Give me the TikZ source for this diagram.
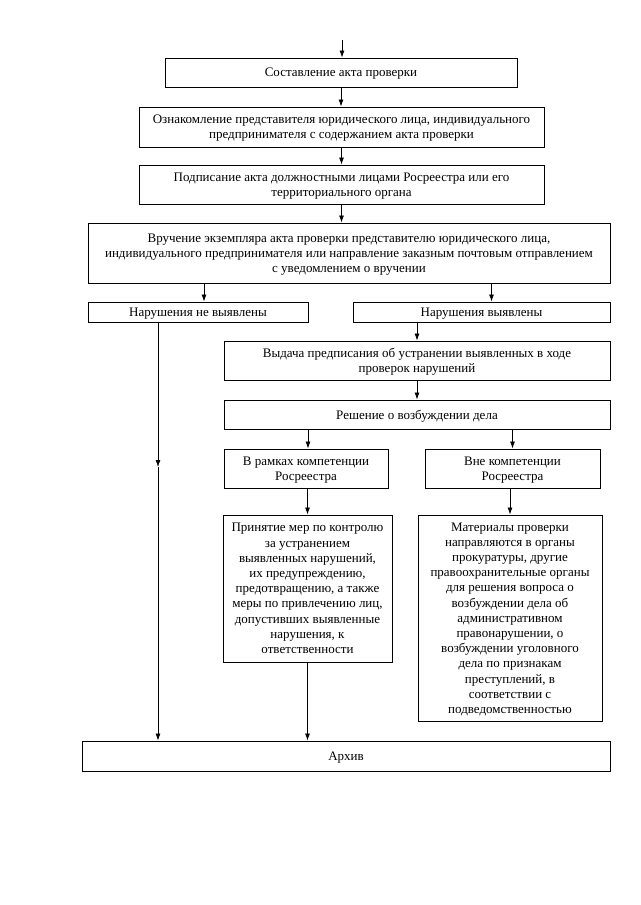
\documentclass[tikz,border=0pt]{standalone}
\usepackage{fontspec}
\setmainfont{Liberation Serif}
\usetikzlibrary{arrows.meta}
\newcommand\bxnode[6]{%
  \node[box, minimum width={(#4-#2)*1pt}, minimum height={(#5-#3)*1pt}] (#1) at ({(#2+#4)/2},{(#3+#5)/2}) {#6};}
\begin{document}
\begin{tikzpicture}[x=1pt,y=-1pt,
  box/.style={draw, line width=0.9pt, inner sep=0pt, align=center, text depth=0pt,
    font=\fontsize{13}{15.2}\selectfont},
  arr/.style={line width=0.8pt, -{Latex[length=7pt,width=5pt]}}]
\useasboundingbox (0,0) rectangle (640,905);
\fill[white] (0,0) rectangle (640,905);

\bxnode{b1}{165}{58}{517}{87}{Составление акта проверки}
\bxnode{b2}{139}{107}{544}{147}{Ознакомление представителя юридического лица, индивидуального\\предпринимателя с содержанием акта проверки}
\bxnode{b3}{139}{165}{544}{204}{Подписание акта должностными лицами Росреестра или его\\территориального органа}
\bxnode{b4}{88}{223}{610}{283}{Вручение экземпляра акта проверки представителю юридического лица,\\индивидуального предпринимателя или направление заказным почтовым отправлением\\с уведомлением о вручении}
\bxnode{b5}{88}{302}{308}{322}{Нарушения не выявлены}
\bxnode{b6}{353}{302}{610}{322}{Нарушения выявлены}
\bxnode{b7}{224}{341}{610}{380}{Выдача предписания об устранении выявленных в ходе\\проверок нарушений}
\bxnode{b8}{224}{400}{610}{429}{Решение о возбуждении дела}
\bxnode{b9}{224}{449}{388}{488}{В рамках компетенции\\Росреестра}
\bxnode{b10}{425}{449}{600}{488}{Вне компетенции\\Росреестра}
\bxnode{b11}{223}{515}{392}{662}{Принятие мер по контролю\\за устранением\\выявленных нарушений,\\их предупреждению,\\предотвращению, а также\\меры по привлечению лиц,\\допустивших выявленные\\нарушения, к\\ответственности}
\bxnode{b12}{418}{515}{602}{721}{Материалы проверки\\направляются в органы\\прокуратуры, другие\\правоохранительные органы\\для решения вопроса о\\возбуждении дела об\\административном\\правонарушении, о\\возбуждении уголовного\\дела по признакам\\преступлений, в\\соответствии с\\подведомственностью}
\bxnode{arch}{82}{741}{610}{771}{Архив}

\coordinate (start) at (342,40);
\coordinate (mid) at (158,467);

\draw[arr] (start) -- (start |- b1.north);
\draw[arr] (b1.south) -- (b1.south |- b2.north);
\draw[arr] (b2.south) -- (b2.south |- b3.north);
\draw[arr] (b3.south) -- (b3.south |- b4.north);
\draw[arr] ([xshift=6pt]b5.north |- b4.south) -- ([xshift=6pt]b5.north);
\draw[arr] ([xshift=10pt]b6.north |- b4.south) -- ([xshift=10pt]b6.north);
\draw[arr] (mid |- b5.south) -- (mid);
\draw[arr] (mid) -- (mid |- arch.north);
\draw[arr] (b7.north |- b6.south) -- (b7.north);
\draw[arr] (b7.south) -- (b8.north);
\draw[arr] ([xshift=2pt]b9.north |- b8.south) -- ([xshift=2pt]b9.north);
\draw[arr] (b10.north |- b8.south) -- (b10.north);
\draw[arr] (b11.north |- b9.south) -- (b11.north);
\draw[arr] (b12.north |- b10.south) -- (b12.north);
\draw[arr] (b11.south) -- (b11.south |- arch.north);
\end{tikzpicture}
\end{document}
